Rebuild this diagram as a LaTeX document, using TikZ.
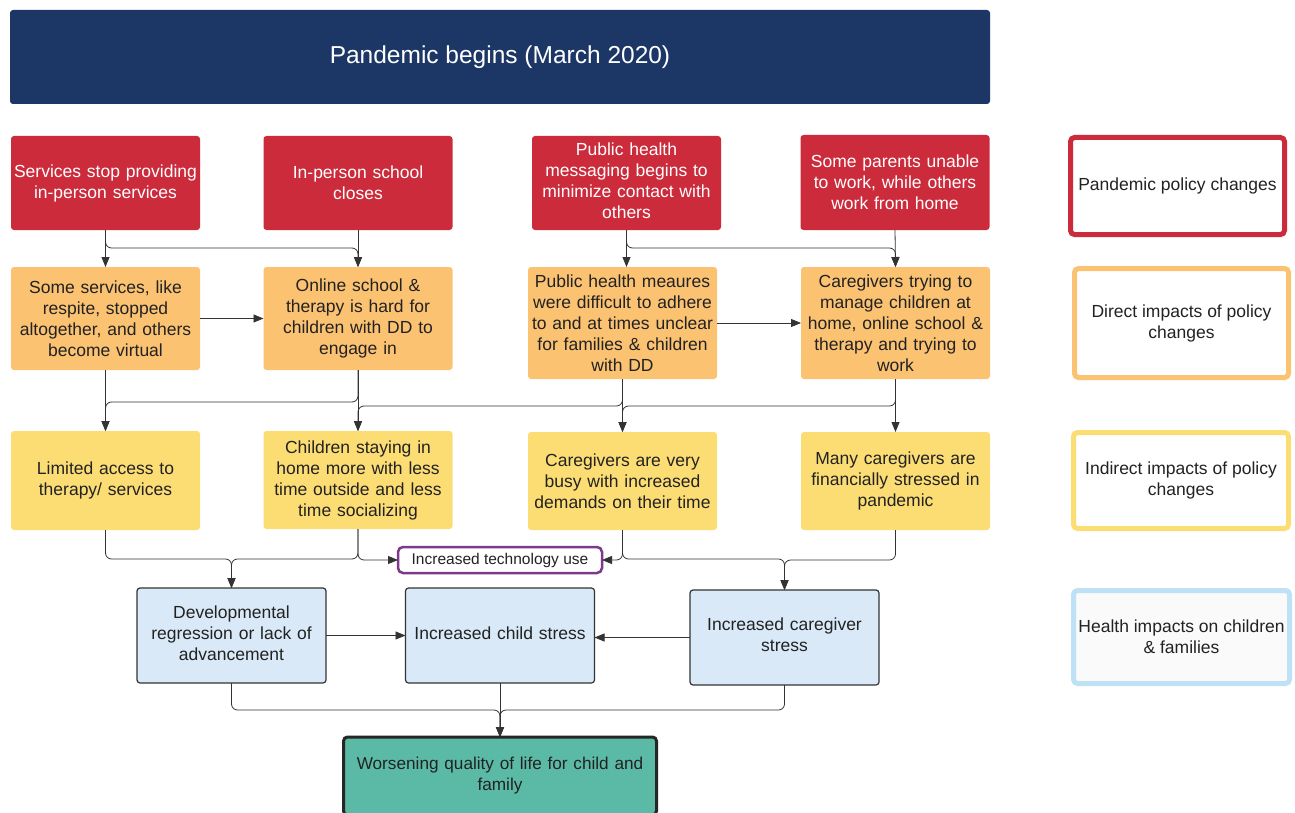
\documentclass[tikz,border=0pt]{standalone}
\usepackage{fontspec}
\setmainfont{Liberation Sans}
\usetikzlibrary{arrows.meta}
\definecolor{navy}{HTML}{1C3766}
\definecolor{pred}{HTML}{CC2B3B}
\definecolor{porange}{HTML}{FBC272}
\definecolor{pyellow}{HTML}{FCDD74}
\definecolor{pblue}{HTML}{D9E9F7}
\definecolor{pteal}{HTML}{5BBAA6}
\definecolor{ppurple}{HTML}{7C3A8C}
\definecolor{lblue}{HTML}{BFE1F5}
\definecolor{txt}{HTML}{222222}
\definecolor{lne}{HTML}{333333}
\begin{document}
\begin{tikzpicture}[x=1pt,y=-1pt,
  every node/.style={inner sep=0pt,outer sep=0pt,align=center,text=txt,font=\fontsize{17.5}{21}\selectfont},
  box/.style={rounded corners=3pt,minimum width=#1,text width=#1-6},
  raised/.style={execute at end node={\endgraf\kern5pt}},
  redbox/.style={box=189,fill=pred,text=white,minimum height=94},
  orbox/.style={box=189,fill=porange},
  yebox/.style={box=189,fill=pyellow},
  blbox/.style={box=189,fill=pblue,draw=lne,line width=1.2pt,minimum height=95,raised},
  legbox/.style={rounded corners=4pt,line width=5pt,fill=white},
  conn/.style={draw=lne,line width=0.8pt,rounded corners=6pt},
  arr/.style={conn,-{Triangle[length=10pt,width=8pt]}}
]
\useasboundingbox (0,0) rectangle (1295,813);
% title
\node[fill=navy,rounded corners=3pt,minimum width=980,minimum height=94,text=white,font=\fontsize{24.5}{28}\selectfont] (title) at (500,57) {Pandemic begins (March 2020)};
% row A
\node[redbox] (A1) at (105.5,183) {Services stop providing\\in-person services};
\node[redbox] (A2) at (358,183) {In-person school\\closes};
\node[redbox,raised] (A3) at (626.5,183) {Public health\\messaging begins to\\minimize contact with\\others};
\node[redbox,minimum height=95] (A4) at (895,182.5) {Some parents unable\\to work, while others\\work from home};
% row B
\node[orbox,minimum height=103] (B1) at (105.5,318.5) {Some services, like\\respite, stopped\\altogether, and others\\become virtual};
\node[orbox,minimum height=103] (B2) at (358,318.5) {Online school \&\\therapy is hard for\\children with DD to\\engage in};
\node[orbox,minimum height=112] (B3) at (622.5,323) {Public health meaures\\were difficult to adhere\\to and at times unclear\\for families \& children\\with DD};
\node[orbox,minimum height=112] (B4) at (895.5,323) {Caregivers trying to\\manage children at\\home, online school \&\\therapy and trying to\\work};
% row C
\node[yebox,minimum height=99] (C1) at (105.5,480.5) {Limited access to\\therapy/ services};
\node[yebox,minimum height=98] (C2) at (358,480) {Children staying in\\home more with less\\time outside and less\\time socializing};
\node[yebox,minimum height=98] (C3) at (622.5,481) {Caregivers are very\\busy with increased\\demands on their time};
\node[yebox,minimum height=98] (C4) at (895.5,481) {Many caregivers are\\financially stressed in\\pandemic};
% tech
\node[draw=ppurple,line width=2.5pt,fill=white,rounded corners=5pt,minimum width=204,minimum height=26,font=\fontsize{15.5}{18}\selectfont] (T) at (500,560) {Increased technology use};
% row D
\node[blbox] (D1) at (231.5,635.5) {Developmental\\regression or lack of\\advancement};
\node[blbox] (D2) at (500,635.5) {Increased child stress};
\node[blbox] (D3) at (784.5,637.5) {Increased caregiver\\stress};
% final
\node[fill=pteal,draw=black!85,line width=3pt,rounded corners=4pt,minimum width=313,minimum height=78,text width=300,font=\fontsize{17.2}{21}\selectfont] (F) at (500,776) {Worsening quality of life for child and\\family};
% legend
\node[legbox,draw=pred,minimum width=214,minimum height=97] (L1) at (1177.5,186) {Pandemic policy changes};
\node[legbox,draw=porange,minimum width=214,minimum height=109] (L2) at (1181.5,323) {Direct impacts of policy\\changes};
\node[legbox,draw=pyellow,minimum width=215,minimum height=96] (L3) at (1181,480.5) {Indirect impacts of policy\\changes};
\node[legbox,draw=lblue,fill=black!2,minimum width=216,minimum height=93] (L4) at (1181.5,637) {Health impacts on children\\\& families};
% connectors A -> B
\draw[arr] (A1.south) -- (B1.north);
\draw[arr] (A1.south) -- ++(0,18) -| (B2.north);
\draw[arr] (A2.south) -- (B2.north);
\draw[arr] (A3.south) -- (A3.south |- B3.north);
\draw[arr] (A3.south) -- ++(0,18) -| (B4.north);
\draw[arr] (A4.south) -- (B4.north);
% B horizontal
\draw[arr] (B1.east) -- (B2.west);
\draw[arr] (B3.east) -- (B4.west);
% B -> C
\draw[arr] (B1.south) -- (C1.north);
\draw[arr] (B2.south) -- ++(0,32) -| (C1.north);
\draw[arr] (B2.south) -- (C2.north);
\draw[arr] (B3.south) -- ++(0,27) -| (C2.north);
\draw[arr] (B3.south) -- (C3.north);
\draw[arr] (B4.south) -- ++(0,27) -| (C3.north);
\draw[arr] (B4.south) -- (C4.north);
% C -> D / tech
\draw[arr] (C1.south) -- ++(0,29) -| (D1.north);
\draw[arr] (C2.south) -- ++(0,30) -| (D1.north);
\draw[arr] (C2.south) |- (T.west);
\draw[arr] (C3.south) |- (T.east);
\draw[arr] (C3.south) -- ++(0,29) -| (D3.north);
\draw[arr] (C4.south) -- ++(0,30) -| (D3.north);
% D horizontal
\draw[arr] (D1.east) -- (D2.west);
\draw[arr] (D3.west) -- (D3.west -| D2.east);
% D -> F
\draw[arr] (D1.south) -- ++(0,27) -| (F.north);
\draw[arr] (D2.south) -- (F.north);
\draw[arr] (D3.south) -- ++(0,25) -| (F.north);
\end{tikzpicture}
\end{document}
